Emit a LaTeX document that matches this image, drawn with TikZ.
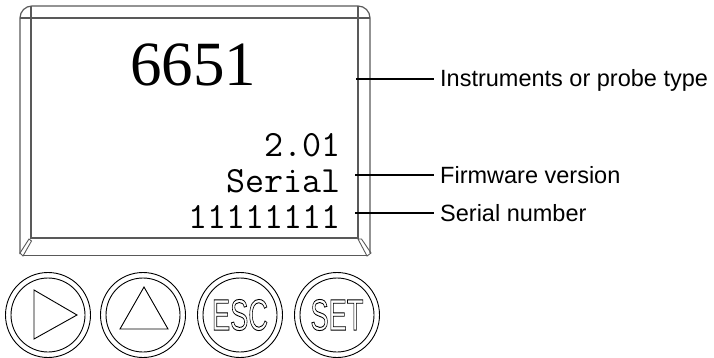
\documentclass[tikz,border=0pt]{standalone}
\usepackage{fontspec}
\usepackage{graphicx}
\setmainfont{Liberation Serif}
\newfontfamily\arialf{Liberation Sans}
\newcommand\outlinetxt[1]{\special{pdf:literal direct 1 Tr 0.9 w}#1\special{pdf:literal direct 0 Tr}}
\tikzset{
  bezel/.style={draw=black!65, line width=1.2pt},
  callout/.style={draw=black, line width=1.2pt},
  lcdtext/.style={anchor=base east, inner sep=0pt, font=\ttfamily\fontsize{37}{37}\selectfont},
  lbl/.style={anchor=base west, inner sep=0pt, font=\arialf\fontsize{23.5}{23.5}\selectfont},
  ring/.style={draw=black, line width=0.9pt},
  btntxt/.style={inner sep=0pt, font=\arialf\fontsize{44}{44}\selectfont}
}
\begin{document}
\begin{tikzpicture}[x=1pt,y=-1pt]
\useasboundingbox (0,0) rectangle (714,358);
% bezel
\draw[bezel] (20,254) -- (20,18) arc[start angle=180,end angle=270,radius=12] -- (358,6) arc[start angle=270,end angle=360,radius=12] -- (370,253);
\draw[bezel] (22,255.5) -- (368,255.5);
\draw[bezel] (31,18) rectangle (358,238);
\draw[bezel] (31,18) -- (31,6);
\draw[bezel] (31,18) -- (20,18);
\draw[bezel] (358,18) -- (358,6);
\draw[bezel] (358,18) -- (370,18);
\draw[bezel, line width=0.9pt] (29,239) -- (20,253) -- (23,256) -- (31.5,241) -- cycle;
\draw[bezel, line width=0.9pt] (358,239) -- (367,256) -- (371,253) -- (361.5,239) -- cycle;
% LCD texts
\node[anchor=base, inner sep=0pt, font=\fontsize{63}{63}\selectfont] (num) at (193,86) {6651};
\node[lcdtext] (ver) at (341,157) {2.01};
\node[lcdtext] (ser) at (341,193) {Serial};
\node[lcdtext] (sn) at (341,228) {11111111};
% callouts
\coordinate (c1) at (356,79);
\coordinate (c2) at (355,175);
\coordinate (c3) at (355,213);
\node[lbl] (l1) at (440,87) {Instruments or probe type};
\node[lbl] (l2) at (440,183) {Firmware version};
\node[lbl] (l3) at (440,221) {Serial number};
\draw[callout] (c1) -- (434,79);
\draw[callout] (c2) -- (434,175);
\draw[callout] (c3) -- (434,213);
% buttons
\foreach \cx/\nm in {48/b1,143/b2,240/b3,337/b4}{
  \draw[ring] (\cx,315) circle[radius=42.5];
  \draw[ring] (\cx,315) circle[radius=37];
  \coordinate (\nm) at (\cx,315);
}
\draw[ring] ([shift={(-14,-25)}]b1) -- ([shift={(-14,24)}]b1) -- ([shift={(29,0)}]b1) -- cycle;
\draw[ring] ([shift={(1,-28)}]b2) -- ([shift={(-23,14)}]b2) -- ([shift={(25,14)}]b2) -- cycle;
\node[btntxt] (esc) at (b3) {\scalebox{0.62}[1]{\outlinetxt{ESC}}};
\node[btntxt] (set) at (b4) {\scalebox{0.62}[1]{\outlinetxt{SET}}};
\end{tikzpicture}
\end{document}
